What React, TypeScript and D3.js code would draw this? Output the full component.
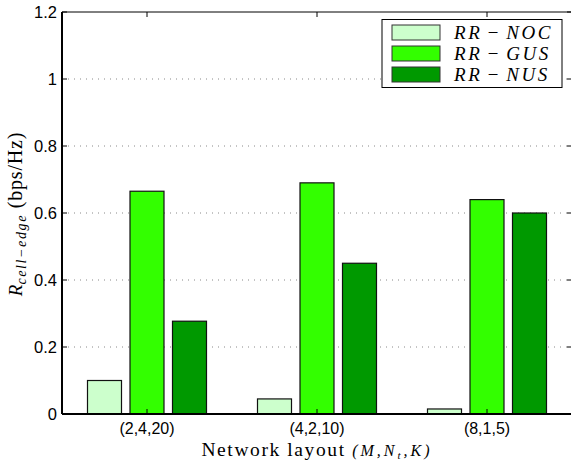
import * as d3 from 'd3'
import { useEffect } from 'react'

const categories = ['(2,4,20)', '(4,2,10)', '(8,1,5)']
const seriesNames = ['RR\u200a\u2212\u200aNOC', 'RR\u200a\u2212\u200aGUS', 'RR\u200a\u2212\u200aNUS']
const noc = [0.1, 0.045, 0.015]
const gus = [0.665, 0.69, 0.64]
const nus = [0.277, 0.45, 0.6]
const colors = ['#ccffcc', '#33ff00', '#009900']
const yTicks = [0, 0.2, 0.4, 0.6, 0.8, 1, 1.2]
const yTickLabels = ['0', '0.2', '0.4', '0.6', '0.8', '1', '1.2']

const width = 571
const height = 465
const margin = { top: 12, left: 62, bottom: 51 }
const plotRight = 572

const sans = "'Liberation Sans', Arial, Helvetica, sans-serif"
const serif = "'Liberation Serif', 'Times New Roman', 'DejaVu Serif', serif"

const App = () => {
  useEffect(() => {
    document.body.style.margin = '0'
  }, [])

  const series = [noc, gus, nus]
  const x = d3.scaleLinear().domain([0.5, 3.5]).range([margin.left, plotRight])
  const y = d3
    .scaleLinear()
    .domain([0, 1.2])
    .range([height - margin.bottom, margin.top])
  const barW = x(0.2) - x(0)
  const y0 = y(0)

  return (
    <svg width={width} height={height} style={{ display: 'block', background: '#fff' }}>
      {/* grid */}
      {yTicks.slice(1, -1).map((t) => (
        <line
          key={'g' + t}
          x1={margin.left}
          x2={plotRight}
          y1={y(t)}
          y2={y(t)}
          stroke="#888"
          strokeWidth={1}
          strokeDasharray="1,5"
        />
      ))}
      {/* bars */}
      {series.map((vals, j) =>
        vals.map((v, i) => {
          const cx = x(i + 1 + (j - 1) * 0.25)
          return (
            <rect
              key={j + '-' + i}
              x={cx - barW / 2}
              y={y(v)}
              width={barW}
              height={y0 - y(v)}
              fill={colors[j]}
              stroke="#111"
              strokeWidth={1.2}
            />
          )
        })
      )}
      {/* axes box */}
      <line x1={margin.left} x2={plotRight} y1={margin.top} y2={margin.top} stroke="#000" strokeWidth={1} />
      <line x1={margin.left} x2={plotRight} y1={y0} y2={y0} stroke="#000" strokeWidth={2} />
      <line x1={margin.left} x2={margin.left} y1={margin.top} y2={y0} stroke="#000" strokeWidth={2} />
      {yTicks.map((t, i) => (
        <g key={'t' + t}>
          <line x1={margin.left} x2={margin.left + 5} y1={y(t)} y2={y(t)} stroke="#000" />
          <line x1={plotRight - 5} x2={plotRight} y1={y(t)} y2={y(t)} stroke="#000" />
          <text x={margin.left - 5} y={y(t)} dy="0.36em" textAnchor="end" fontFamily={sans} fontSize={16.5}>
            {yTickLabels[i]}
          </text>
        </g>
      ))}
      {categories.map((c, i) => (
        <g key={c}>
          <line x1={x(i + 1)} x2={x(i + 1)} y1={margin.top} y2={margin.top + 5} stroke="#000" />
          <line x1={x(i + 1)} x2={x(i + 1)} y1={y0} y2={y0 - 5} stroke="#000" />
          <text x={x(i + 1)} y={y0 + 20} textAnchor="middle" fontFamily={sans} fontSize={16}>
            {c}
          </text>
        </g>
      ))}
      {/* x label */}
      <text x={317} y={456} textAnchor="middle" fontFamily={serif} fontSize={19.5}>
        <tspan letterSpacing={1.6}>Network layout </tspan>
        <tspan fontSize={16} fontStyle="italic" letterSpacing={3}>
          (M,N<tspan fontSize={11} dy={3}>t</tspan>
          <tspan dy={-3}>,K)</tspan>
        </tspan>
      </text>
      {/* y label */}
      <text
        transform={`translate(22,${(margin.top + y0) / 2 + 1}) rotate(-90)`}
        textAnchor="middle"
        fontFamily={serif}
        fontSize={20}
      >
        <tspan fontStyle="italic" fontSize={19}>R</tspan>
        <tspan fontStyle="italic" fontSize={14} dy={4} letterSpacing={1.6}>cell−edge</tspan>
        <tspan dy={-4} letterSpacing={0.8}>{'  '}(bps/Hz)</tspan>
      </text>
      {/* legend */}
      <g>
        <rect x={382} y={19.5} width={180} height={68} fill="#fff" stroke="#000" strokeWidth={1} />
        {seriesNames.map((s, j) => (
          <g key={s}>
            <rect x={392} y={25 + j * 21} width={48} height={15} fill={colors[j]} stroke="#333" strokeWidth={1} />
            <text
              x={454}
              y={32.5 + j * 21}
              dy="0.35em"
              fontFamily={serif}
              fontStyle="italic"
              fontSize={19}
              letterSpacing={2.6}
            >
              {s}
            </text>
          </g>
        ))}
      </g>
    </svg>
  )
}

export default App
